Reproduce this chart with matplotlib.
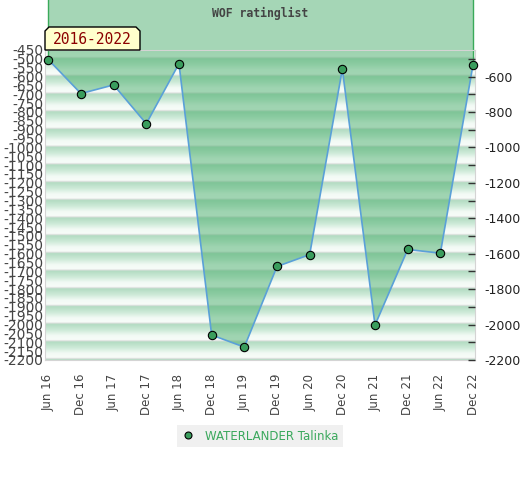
import matplotlib
matplotlib.use("Agg")
import matplotlib.pyplot as plt
from matplotlib.lines import Line2D
from matplotlib.patches import Polygon
from matplotlib.transforms import IdentityTransform
import numpy as np

plt.rcParams['axes.unicode_minus'] = False

# data
periods = ["Jun 16", "Dec 16", "Jun 17", "Dec 17", "Jun 18", "Dec 18", "Jun 19",
           "Dec 19", "Jun 20", "Dec 20", "Jun 21", "Dec 21", "Jun 22", "Dec 22"]
ratings = [-504, -696, -647, -866, -527, -2059, -2127,
           -1672, -1605, -557, -2003, -1576, -1597, -532]
player = "WATERLANDER Talinka"
title = "WOF ratinglist"
span_label = "2016-2022"

y_top, y_bottom = -450, -2200
left_ticks = list(range(-450, -2201, -50))
right_major = list(range(-600, -2201, -200))
right_minor = list(range(-500, -2201, -100))


def stripe_colors(values):
    # repeating horizontal gradient, one period per 100 rating points
    stops = [(0.00, (0.87, 0.87, 0.87)),
             (0.06, (0.70, 0.86, 0.76)),
             (0.40, (0.81, 0.92, 0.85)),
             (0.70, (0.95, 0.98, 0.96)),
             (0.94, (0.97, 0.99, 0.975)),
             (1.00, (0.87, 0.87, 0.87))]
    t = ((-592 - values) % 100) / 100.0
    pos = [s[0] for s in stops]
    rgb = np.zeros((len(values), 3))
    for c in range(3):
        rgb[:, c] = np.interp(t, pos, [s[1][c] for s in stops])
    return rgb


fig = plt.figure(figsize=(5.2, 4.8), dpi=100)
ax = fig.add_axes([45 / 520, 120 / 480, 430 / 520, 310 / 480])
x = np.arange(len(periods))
xmin, xmax = -0.1, len(periods) - 1 + 0.06
ax.set_xlim(xmin, xmax)
ax.set_ylim(y_bottom, y_top)

# striped background
rows = np.arange(y_top, y_bottom - 1, -1)
img = stripe_colors(rows).reshape(-1, 1, 3)
ax.imshow(img, extent=[xmin, xmax, y_bottom, y_top], aspect='auto',
          origin='upper', interpolation='bilinear', zorder=0)

# area between the rating line and zero
ax.fill_between(x, ratings, 0, facecolor='#4caf6e', alpha=0.5,
                edgecolor='none', clip_on=False, zorder=1)
ax.plot([x[0], x[0]], [ratings[0], 0], color='#3aaa5a', lw=1, clip_on=False, zorder=1.5)
ax.plot([x[-1], x[-1]], [ratings[-1], 0], color='#3aaa5a', lw=1, clip_on=False, zorder=1.5)
ax.plot(x, ratings, color='#5aa0d8', lw=1.2, zorder=3)
ax.plot(x, ratings, ls='none', marker='o', ms=6, mfc='#3a9d5d', mec='black',
        mew=0.8, zorder=4, clip_on=False)

for side in ['left', 'right', 'top', 'bottom']:
    ax.spines[side].set_color('#d4d4d4')

ax.set_yticks(left_ticks)
ax.set_yticklabels([str(v) for v in left_ticks])
ax.tick_params(axis='y', length=0, pad=1, labelsize=10, labelcolor='#444444')
ax.set_xticks(x)
ax.set_xticklabels(periods, rotation=90)
ax.tick_params(axis='x', length=0, pad=10, labelsize=8.5, labelcolor='#444444')

ax2 = ax.twinx()
ax2.set_ylim(y_bottom, y_top)
ax2.set_yticks(right_major)
ax2.set_yticks(right_minor, minor=True)
ax2.set_yticklabels([str(v) for v in right_major])
ax2.tick_params(axis='y', which='both', direction='in', length=5, width=1,
                color='#333333', pad=7, labelsize=9, labelcolor='#222222')
for side in ['left', 'right', 'top', 'bottom']:
    ax2.spines[side].set_visible(False)

fig.text(260 / 520, 1 - 13 / 480, title, family='DejaVu Sans Mono',
         weight='bold', fontsize=8.3, color='#444444', ha='center', va='center')

# yellow period label with cut corners
bx0, bx1, by0, by1, cut = 45, 140, 430, 453, 4
box = Polygon([(bx0, by0), (bx0, by1 - cut), (bx0 + cut, by1), (bx1 - cut, by1),
               (bx1, by1 - cut), (bx1, by0)], closed=True, facecolor='#ffffcc',
              edgecolor='black', lw=1, transform=IdentityTransform(), zorder=5)
fig.patches.append(box)
fig.text(92 / 520, 441 / 480, span_label, family='DejaVu Sans Mono', fontsize=10.5,
         color='#8b0000', ha='center', va='center', zorder=6)

handle = Line2D([], [], ls='none', marker='o', ms=5, mfc='#3a9d5d', mec='black', mew=0.8)
leg = fig.legend(handles=[handle], labels=[player], loc='center',
                 bbox_to_anchor=(260 / 520, 1 - 436 / 480), frameon=True,
                 facecolor='#f0f0f0', edgecolor='none', fancybox=False, framealpha=1,
                 labelcolor='#3aa85c', fontsize=8.5, handlelength=1, handletextpad=0.9,
                 borderpad=0.4)

fig.savefig("out.png", dpi=100)
